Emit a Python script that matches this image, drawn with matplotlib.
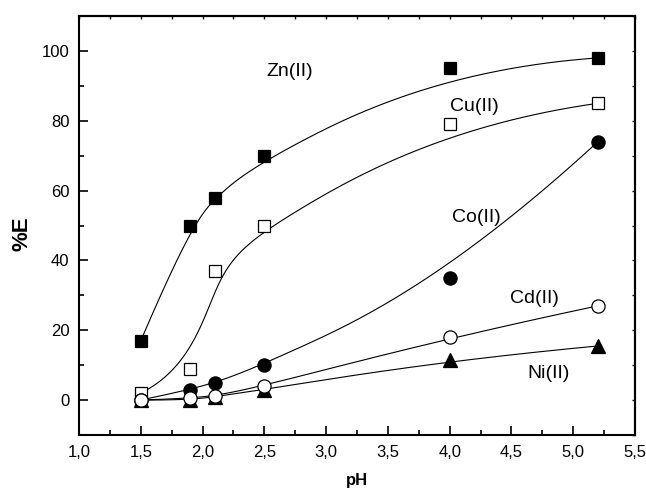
import numpy as np
import matplotlib
matplotlib.use("Agg")
import matplotlib.pyplot as plt
from matplotlib.ticker import MultipleLocator, FuncFormatter

plt.rcParams['font.family'] = ['Liberation Sans', 'DejaVu Sans']

# ---- data ----
ph = [1.5, 1.9, 2.1, 2.5, 4.0, 5.2]
zn = [17, 50, 58, 70, 95, 98]
cu = [2, 9, 37, 50, 79, 85]
co = [0, 3, 5, 10, 35, 74]
cd = [0, 0.5, 1.2, 4, 18, 27]
ni = [0, 0, 1, 3, 11.5, 15.5]

series_names = ["Zn(II)", "Cu(II)", "Co(II)", "Cd(II)", "Ni(II)"]
label_x = [2.52, 4.0, 4.02, 4.49, 4.63]
label_y = [94, 84, 52.4, 29, 7.7]


def bspline_basis(t, k, u):
    m = len(t) - 1
    B = np.zeros((len(u), m))
    for i in range(m):
        B[:, i] = (t[i] <= u) & (u < t[i + 1])
    last = max(i for i in range(m) if t[i] < t[i + 1])
    B[u >= t[-1], last] = 1.0
    for d in range(1, k + 1):
        Bn = np.zeros((len(u), m - d))
        for i in range(m - d):
            term = np.zeros(len(u))
            if t[i + d] - t[i] > 0:
                term += (u - t[i]) / (t[i + d] - t[i]) * B[:, i]
            if t[i + d + 1] - t[i + 1] > 0:
                term += (t[i + d + 1] - u) / (t[i + d + 1] - t[i + 1]) * B[:, i + 1]
            Bn[:, i] = term
        B = Bn
    return B


def bspline(xs, ys, k=3, num=300):
    xs = np.asarray(xs, float)
    ys = np.asarray(ys, float)
    n = len(xs)
    t = np.concatenate([np.zeros(k + 1), np.arange(1, n - k), np.full(k + 1, n - k)])
    u = np.linspace(0, n - k, num)
    B = bspline_basis(t, k, u)
    return B @ xs, B @ ys


fig = plt.figure(figsize=(6.46, 4.94), dpi=100)
ax = fig.add_axes([79 / 646, 1 - 435 / 494, (635 - 79) / 646, (435 - 16) / 494])

styles = [
    dict(marker='s', mfc='black', mec='black', ms=9, zorder=3.2),
    dict(marker='s', mfc='white', mec='black', ms=9, zorder=3.1),
    dict(marker='o', mfc='black', mec='black', ms=9.5, zorder=3.3),
    dict(marker='o', mfc='white', mec='black', ms=9.5, zorder=3.4),
    dict(marker='^', mfc='black', mec='black', ms=10, zorder=3.0),
]
all_y = [zn, cu, co, cd, ni]
for yv, st in zip(all_y, styles):
    cx, cy = bspline(ph, yv)
    ax.plot(cx, cy, color='black', lw=0.8, zorder=2)
    ax.plot(ph, yv, linestyle='none', mew=0.9, **st)

for name, lx, ly in zip(series_names, label_x, label_y):
    ax.text(lx, ly, name, fontsize=14, ha='left', va='center')

ax.set_xlim(1.0, 5.5)
ax.set_ylim(-10, 110)
ax.xaxis.set_major_locator(MultipleLocator(0.5))
ax.xaxis.set_minor_locator(MultipleLocator(0.25))
ax.yaxis.set_major_locator(MultipleLocator(20))
ax.yaxis.set_minor_locator(MultipleLocator(10))
ax.xaxis.set_major_formatter(FuncFormatter(lambda v, p: f"{v:.1f}".replace('.', ',')))
ax.yaxis.set_major_formatter(FuncFormatter(lambda v, p: f"{v:.0f}"))

ax.tick_params(which='both', direction='in', labelsize=12, width=1.2, color='black')
ax.tick_params(which='major', length=6.5, pad=7)
ax.tick_params(which='minor', length=3.5)
for sp in ax.spines.values():
    sp.set_linewidth(1.5)

# ticks on top and right
axt = ax.secondary_xaxis('top')
axt.xaxis.set_major_locator(MultipleLocator(0.5))
axt.xaxis.set_minor_locator(MultipleLocator(0.25))
axt.tick_params(which='both', direction='in', length=2.5, width=1.0, labeltop=False)
axr = ax.secondary_yaxis('right')
axr.yaxis.set_major_locator(MultipleLocator(20))
axr.yaxis.set_minor_locator(MultipleLocator(10))
axr.tick_params(which='both', direction='in', length=2.5, width=1.0, labelright=False)
for a in (axt, axr):
    for sp in a.spines.values():
        sp.set_linewidth(1.5)

ax.set_xlabel('pH', fontsize=12, fontweight='bold')
ax.xaxis.set_label_coords(0.5, -0.09)
ax.set_ylabel('%E', fontsize=16, fontweight='bold')
ax.yaxis.set_label_coords(-0.102, 0.48)
ax.yaxis.label.set_va('center')

fig.savefig('out.png', dpi=100)
